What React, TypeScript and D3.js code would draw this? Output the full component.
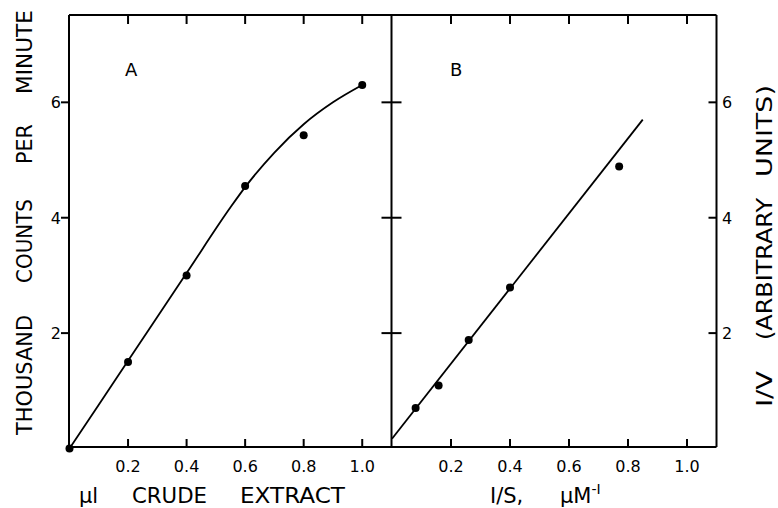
import React from "react";
import * as d3 from "d3";

// Panel A: crude extract
const extractUl = [0, 0.2, 0.4, 0.6, 0.8, 1.0];
const countsK = [0, 1.5, 3.0, 4.55, 5.43, 6.3];
const curveAX = [0, 0.2, 0.4, 0.55, 0.6, 0.7, 0.8, 0.9, 1.0];
const curveAY = [0, 1.52, 3.04, 4.18, 4.53, 5.13, 5.62, 6.0, 6.3];

// Panel B: Lineweaver-Burk
const invS = [0.08, 0.158, 0.26, 0.4, 0.77];
const invV = [0.7, 1.09, 1.88, 2.79, 4.89];
const lineBX = [0, 0.85];
const lineBY = [0.17, 5.7];

const xTicks = [0.2, 0.4, 0.6, 0.8, 1.0];
const xTickLabels = ["0.2", "0.4", "0.6", "0.8", "1.0"];
const yTicks = [2, 4, 6];
const yTickLabels = ["2", "4", "6"];

const FONT = "DejaVu Sans";

export default function App() {
  const W = 778, H = 508;
  const top = 15, bottom = 447;
  const leftA = 69, mid = 391.5, rightB = 716.5;
  const xA = d3.scaleLinear().domain([0, 1.1]).range([69.5, 391.5]);
  const xB = d3.scaleLinear().domain([0, 1.1]).range([392, 716.5]);
  const y = d3.scaleLinear().domain([0, 7.5]).range([448.5, 15.8]);

  const curveA = d3
    .line<number>()
    .x((_, i) => xA(curveAX[i]))
    .y((_, i) => y(curveAY[i]))
    .curve(d3.curveMonotoneX)(curveAX);
  const lineB = d3
    .line<number>()
    .x((_, i) => xB(lineBX[i]))
    .y((_, i) => y(lineBY[i]))(lineBX);

  const sw = 2;
  return (
    <svg width={W} height={H} style={{ display: "block", position: "absolute", left: 0, top: 0, background: "#fff" }}>
      <rect x={0} y={0} width={W} height={H} fill="#fff" />
      {/* frame */}
      <g stroke="#000" strokeWidth={sw} fill="none">
        <line x1={leftA} y1={top} x2={rightB} y2={top} />
        <line x1={leftA} y1={bottom} x2={rightB} y2={bottom} />
        <line x1={leftA} y1={top} x2={leftA} y2={bottom} />
        <line x1={mid} y1={top} x2={mid} y2={bottom} />
        <line x1={rightB} y1={top} x2={rightB} y2={bottom} />
        {xTicks.map((t) => (
          <g key={"xa" + t}>
            <line x1={xA(t)} x2={xA(t)} y1={top} y2={top + 9} />
            <line x1={xA(t)} x2={xA(t)} y1={bottom} y2={bottom - 8} />
            <line x1={xB(t)} x2={xB(t)} y1={top} y2={top + 9} />
            <line x1={xB(t)} x2={xB(t)} y1={bottom} y2={bottom - 8} />
          </g>
        ))}
        {yTicks.map((t) => (
          <g key={"y" + t}>
            <line x1={leftA - 8} x2={leftA} y1={y(t)} y2={y(t)} />
            <line x1={mid - 10} x2={mid + 10} y1={y(t)} y2={y(t)} />
            <line x1={rightB - 8} x2={rightB} y1={y(t)} y2={y(t)} />
          </g>
        ))}
      </g>

      {/* tick labels */}
      <g fontFamily={FONT} fontSize={16} fill="#000">
        {xTicks.map((t, i) => (
          <g key={"xl" + t}>
            <text x={xA(t)} y={472} textAnchor="middle">{xTickLabels[i]}</text>
            <text x={xB(t)} y={472} textAnchor="middle">{xTickLabels[i]}</text>
          </g>
        ))}
        {yTicks.map((t, i) => (
          <g key={"yl" + t}>
            <text x={61} y={y(t) + 6} textAnchor="end">{yTickLabels[i]}</text>
            <text x={722} y={y(t) + 6} textAnchor="start">{yTickLabels[i]}</text>
          </g>
        ))}
      </g>

      {/* panel letters */}
      <g fontFamily={FONT} fontSize={18} fill="#000">
        <text x={125} y={76}>A</text>
        <text x={450} y={76}>B</text>
      </g>

      {/* curves */}
      <path d={curveA || ""} fill="none" stroke="#000" strokeWidth={1.8} />
      <path d={lineB || ""} fill="none" stroke="#000" strokeWidth={1.8} />

      {/* points */}
      {extractUl.map((v, i) => (
        <circle key={"pa" + i} cx={xA(v)} cy={y(countsK[i])} r={4} fill="#000" />
      ))}
      {invS.map((v, i) => (
        <circle key={"pb" + i} cx={xB(v)} cy={y(invV[i])} r={4} fill="#000" />
      ))}

      {/* axis titles */}
      <g fontFamily={FONT} fontSize={21} fill="#000">
        <text x={79} y={503}>µl</text>
        <text x={132} y={503} textLength={75} lengthAdjust="spacingAndGlyphs">CRUDE</text>
        <text x={240} y={503} textLength={105} lengthAdjust="spacingAndGlyphs">EXTRACT</text>
        <text x={490} y={503}>I/S,</text>
        <text x={560} y={503}>µM<tspan fontSize={14} dy={-9}>-I</tspan></text>
      </g>
      <g fontFamily={FONT} fontSize={22} fill="#000">
        <g transform="translate(32,0) rotate(-90)">
          <text x={-435} y={0} textLength={120} lengthAdjust="spacingAndGlyphs">THOUSAND</text>
          <text x={-283} y={0} textLength={84} lengthAdjust="spacingAndGlyphs">COUNTS</text>
          <text x={-164} y={0} textLength={40} lengthAdjust="spacingAndGlyphs">PER</text>
          <text x={-94} y={0} textLength={84} lengthAdjust="spacingAndGlyphs">MINUTE</text>
        </g>
        <g transform="translate(772,0) rotate(-90)">
          <text x={-407} y={0} textLength={36} lengthAdjust="spacingAndGlyphs">I/V</text>
          <text x={-340} y={0} textLength={142} lengthAdjust="spacingAndGlyphs">(ARBITRARY</text>
          <text x={-177} y={0} textLength={92} lengthAdjust="spacingAndGlyphs">UNITS)</text>
        </g>
      </g>
    </svg>
  );
}
